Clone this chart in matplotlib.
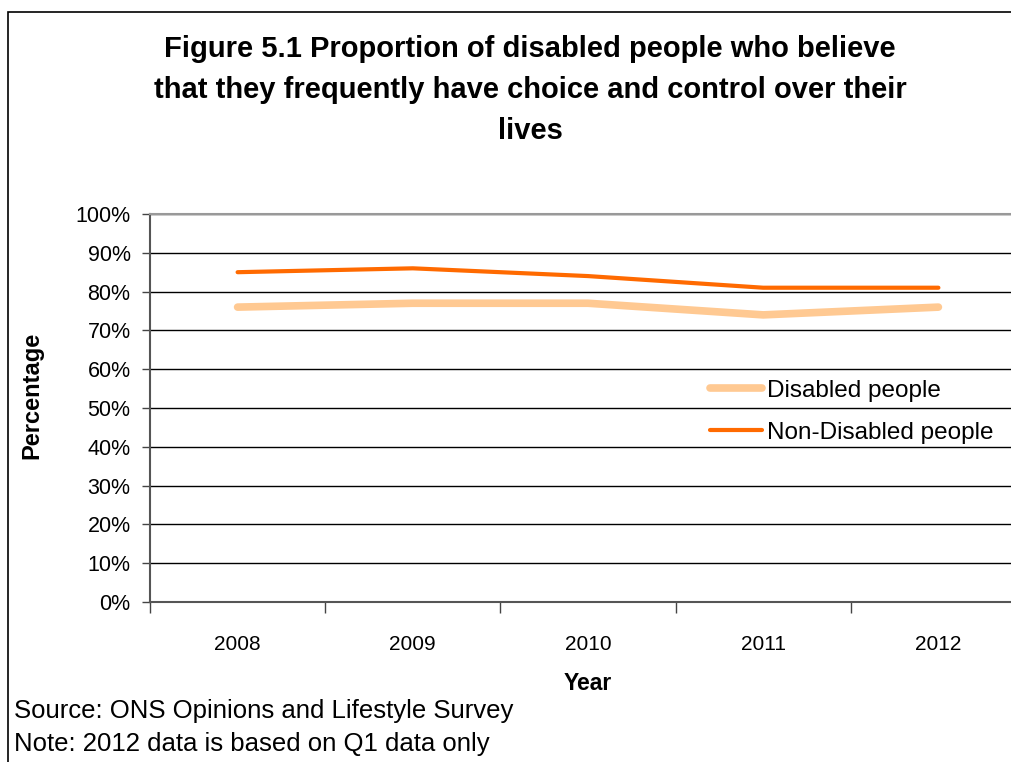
import numpy as np
import matplotlib.pyplot as plt
from matplotlib.ticker import PercentFormatter
from matplotlib.patches import Rectangle

plt.rcParams['font.family'] = ['Liberation Sans', 'DejaVu Sans']

# survey results, percent
years = ['2008', '2009', '2010', '2011', '2012']
disabled = [76, 77, 77, 74, 76]
non_disabled = [85, 86, 84, 81, 81]

fig = plt.figure(figsize=(10.12, 7.62), dpi=100)
W, H = 1012, 762

# outer chart border (runs off the right and bottom)
fig.patches.append(Rectangle((8 / W, -0.1), 1.2, 1 - 12 / H + 0.1,
                             transform=fig.transFigure, fill=False,
                             edgecolor='black', linewidth=1.2))

# plot area: x 150..1026 px, y 214..602 px
ax = fig.add_axes([150 / W, 1 - 602 / H, 876 / W, 388 / H])

x = np.arange(len(years))
ax.plot(x, disabled, color='#FFC992', linewidth=5.5, solid_capstyle='round',
        label='Disabled people')
ax.plot(x, non_disabled, color='#FF6A00', linewidth=3, solid_capstyle='round',
        label='Non-Disabled people')

ax.set_xlim(-0.5, len(years) - 0.5)
ax.set_ylim(0, 100)
ax.set_yticks(np.arange(0, 101, 10))
ax.yaxis.set_major_formatter(PercentFormatter(decimals=0))
ax.set_xticks(x)
ax.set_xticklabels(years)
ax.set_xticks(np.arange(-0.5, len(years), 1), minor=True)
ax.tick_params(axis='x', which='major', length=0, labelsize=15, pad=24)
ax.tick_params(axis='x', which='minor', length=8, width=1, color='#444444',
               direction='out')
ax.tick_params(axis='y', length=6, width=1, color='#444444', direction='out',
               labelsize=15.5, pad=8)

ax.grid(axis='y', color='black', linewidth=1)
ax.set_axisbelow(True)
for side in ['top', 'right']:
    ax.spines[side].set_color('#999999')
    ax.spines[side].set_linewidth(1.5)
ax.spines['left'].set_color('#555555')
ax.spines['bottom'].set_color('#555555')
ax.spines['left'].set_linewidth(1.5)
ax.spines['bottom'].set_linewidth(1.5)

ax.set_ylabel('Percentage', fontsize=17, fontweight='bold', va='center')
ax.yaxis.set_label_coords(-0.135, 0.533)
ax.set_xlabel('Year', fontsize=16.5, fontweight='bold', labelpad=13)

fig.legend(loc='upper left', bbox_to_anchor=(700 / W, 1 - 370 / H),
           frameon=False, fontsize=17.5, handlelength=2.15, handletextpad=0.2,
           labelspacing=0.82, borderaxespad=0)

fig.text(530 / W, 1 - 90 / H,
         'Figure 5.1 Proportion of disabled people who believe\n'
         'that they frequently have choice and control over their\n'
         'lives',
         ha='center', va='center', fontsize=21, fontweight='bold',
         linespacing=1.6)

fig.text(14 / W, 1 - 711 / H, 'Source: ONS Opinions and Lifestyle Survey',
         ha='left', va='center', fontsize=18.5)
fig.text(14 / W, 1 - 744 / H, 'Note: 2012 data is based on Q1 data only',
         ha='left', va='center', fontsize=18.5)

fig.savefig('out.png', dpi=100)
